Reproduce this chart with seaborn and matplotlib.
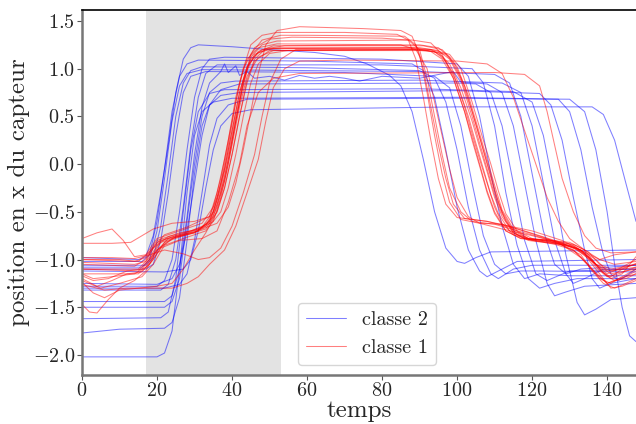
import matplotlib
matplotlib.use('Agg')
import matplotlib.pyplot as plt
import pandas as pd
import seaborn as sns

# courbes : listes de (temps, position) par capteur
classe2 = [
    [(0,-0.98),(15,-1.0),(17,-0.97),(19,-0.75),(21,-0.3),(23,0.2),(25,0.75),(27,1.1),(29,1.22),(31,1.25),(40,1.23),(50,1.2),(62,1.17),(70,1.13),(76,1.05),(82,0.93),(85,0.82),(88,0.55),(91,0.05),(94,-0.5),(97,-0.88),(100,-1.02),(102,-1.04),(105,-0.98),(109,-0.92),(147.7,-0.9)],
    [(0,-1.02),(16,-1.02),(18,-0.95),(20,-0.6),(22,-0.05),(24,0.55),(26,0.92),(28,1.05),(31,1.09),(60,1.08),(88,1.05),(91,0.98),(94,0.7),(97,0.15),(100,-0.45),(103,-0.9),(106,-1.12),(108,-1.18),(111,-1.12),(116,-1.02),(147.7,-1.0)],
    [(0,-1.06),(17,-1.06),(19,-0.98),(21,-0.65),(23,-0.1),(25,0.5),(27,0.85),(29,0.98),(32,1.02),(60,1.01),(90,0.98),(94,0.9),(97,0.65),(100,0.15),(103,-0.45),(106,-0.9),(109,-1.15),(111,-1.2),(115,-1.1),(120,-1.06),(147.7,-1.06)],
    [(0,-1.1),(17,-1.1),(19,-1.05),(21,-0.8),(23,-0.3),(25,0.3),(27,0.75),(29,0.92),(33,0.97),(70,0.96),(94,0.92),(98,0.8),(101,0.4),(104,-0.2),(107,-0.75),(110,-1.05),(113,-1.15),(117,-1.12),(122,-1.12),(147.7,-1.13)],
    [(0,-1.28),(20,-1.28),(22,-1.22),(24,-1.0),(26,-0.5),(28,0.15),(30,0.7),(32,1.0),(34,1.1),(38,1.12),(80,1.1),(100,1.05),(103,0.92),(106,0.5),(109,-0.1),(112,-0.65),(115,-1.05),(118,-1.2),(122,-1.15),(130,-1.17),(147.7,-1.17)],
    [(0,-1.32),(21,-1.32),(23,-1.26),(25,-1.0),(27,-0.45),(29,0.2),(31,0.7),(33,0.95),(36,1.04),(80,1.04),(104,1.0),(107,0.85),(110,0.4),(113,-0.3),(116,-0.85),(119,-1.2),(122,-1.3),(126,-1.25),(132,-1.2),(147.7,-1.2)],
    [(0,-1.44),(22,-1.44),(24,-1.38),(26,-1.1),(28,-0.55),(30,0.1),(32,0.6),(34,0.85),(36,0.93),(37,0.97),(38,1.05),(39,0.96),(41,1.03),(42,0.93),(44,0.97),(46,0.9),(50,0.92),(54,0.88),(58,0.93),(62,0.9),(66,0.92),(70,0.9),(74,0.87),(80,0.92),(90,0.9),(99,0.97),(101,0.86),(108,0.84),(112,0.75),(115,0.4),(118,-0.2),(121,-0.8),(124,-1.25),(126,-1.38),(129,-1.34),(134,-1.28),(147.7,-1.25)],
    [(0,-1.5),(22,-1.5),(24,-1.44),(26,-1.2),(28,-0.6),(30,0.0),(32,0.5),(34,0.75),(37,0.85),(41,0.87),(90,0.88),(112,0.85),(117,0.75),(120,0.4),(123,-0.2),(126,-0.8),(129,-1.15),(131,-1.25),(134,-1.2),(139,-1.1),(147.7,-1.1)],
    [(0,-1.62),(21,-1.61),(23,-1.55),(25,-1.2),(27,-0.5),(29,0.15),(31,0.55),(34,0.74),(38,0.78),(90,0.79),(115,0.76),(120,0.65),(123,0.3),(126,-0.3),(129,-0.95),(132,-1.45),(134,-1.58),(137,-1.52),(141,-1.42),(147.7,-1.4)],
    [(0,-1.77),(10,-1.73),(22,-1.72),(24,-1.66),(26,-1.4),(28,-0.8),(30,-0.1),(32,0.4),(34,0.62),(37,0.72),(42,0.75),(100,0.77),(122,0.74),(125,0.62),(128,0.25),(131,-0.35),(134,-0.9),(136,-1.2),(138,-1.3),(141,-1.25),(147.7,-1.2)],
    [(0,-2.02),(20,-2.02),(22,-1.98),(24,-1.75),(26,-1.1),(28,-0.3),(30,0.3),(32,0.55),(35,0.65),(40,0.69),(100,0.7),(127,0.68),(130,0.55),(133,0.15),(136,-0.45),(139,-0.95),(141,-1.15),(143,-1.22),(145.5,-1.16),(147.7,-1.1)],
    [(0,-1.3),(22,-1.3),(26,-1.26),(28,-1.15),(30,-0.8),(32,-0.3),(34,0.2),(36,0.48),(39,0.62),(44,0.68),(100,0.69),(130,0.68),(134,0.55),(137,0.15),(140,-0.5),(142,-1.05),(144,-1.5),(146,-1.8),(147.7,-1.86)],
    [(0,-1.12),(22,-1.13),(27,-1.1),(29,-1.0),(31,-0.7),(33,-0.25),(35,0.15),(37,0.4),(40,0.53),(45,0.57),(100,0.6),(136,0.6),(139,0.52),(142,0.25),(145,-0.2),(147.7,-0.6)],
    [(0,-1.25),(20,-1.26),(24,-1.2),(26,-1.05),(28,-0.7),(30,-0.2),(32,0.3),(34,0.62),(37,0.78),(42,0.84),(100,0.85),(105,0.84),(109,0.75),(112,0.4),(115,-0.2),(118,-0.8),(121,-1.15),(124,-1.22),(130,-1.12),(147.7,-1.1)],
    [(0,-1.08),(16,-1.08),(18,-1.0),(20,-0.7),(22,-0.15),(24,0.45),(26,0.82),(28,0.95),(32,0.99),(90,0.97),(110,0.94),(114,0.85),(117,0.5),(120,-0.1),(123,-0.7),(126,-1.05),(129,-1.15),(133,-1.1),(147.7,-1.06)],
]

classe1 = [
    [(0,-1.0),(14,-1.02),(17,-0.98),(20,-0.8),(26,-0.72),(32,-0.68),(36,-0.62),(39,-0.45),(41,-0.2),(43,0.15),(45,0.55),(47,0.95),(49,1.25),(52,1.4),(58,1.44),(75,1.42),(85,1.4),(88,1.34),(90,1.15),(92,0.75),(94,0.3),(96,-0.1),(98,-0.4),(101,-0.58),(106,-0.62),(112,-0.63),(118,-0.7),(126,-0.8),(132,-0.9),(137,-1.05),(141,-1.15),(147.7,-1.1)],
    [(0,-1.1),(15,-1.12),(18,-1.0),(21,-0.82),(27,-0.74),(33,-0.65),(35,-0.5),(37,-0.2),(39,0.2),(41,0.65),(43,1.0),(45,1.25),(48,1.35),(52,1.38),(70,1.38),(84,1.36),(87,1.3),(89,1.1),(91,0.7),(93,0.25),(95,-0.15),(97,-0.42),(100,-0.56),(108,-0.6),(116,-0.68),(124,-0.78),(131,-0.9),(136,-1.1),(140,-1.25),(144,-1.2),(147.7,-1.12)],
    [(0,-0.78),(4,-0.72),(8,-0.68),(11,-0.8),(14,-0.97),(17,-0.95),(20,-0.78),(26,-0.7),(32,-0.62),(35,-0.45),(37,-0.15),(39,0.25),(41,0.7),(43,1.0),(46,1.22),(50,1.31),(56,1.33),(80,1.32),(87,1.3),(90,1.2),(92,0.9),(94,0.5),(96,0.1),(98,-0.25),(101,-0.5),(104,-0.6),(110,-0.63),(118,-0.72),(127,-0.82),(133,-0.98),(137,-1.15),(140,-1.25),(143,-1.2),(147.7,-1.15)],
    [(0,-0.83),(8,-0.83),(13,-0.82),(16,-0.75),(19,-0.68),(24,-0.62),(30,-0.6),(34,-0.55),(36,-0.3),(38,0.05),(40,0.45),(42,0.85),(44,1.1),(47,1.22),(52,1.26),(85,1.25),(89,1.2),(92,1.0),(94,0.65),(96,0.3),(98,-0.05),(100,-0.35),(103,-0.55),(106,-0.62),(112,-0.68),(120,-0.75),(128,-0.83),(134,-0.92),(138,-1.0),(142,-0.95),(147.7,-0.92)],
    [(0,-1.17),(3,-1.22),(7,-1.2),(12,-1.12),(16,-1.1),(19,-0.95),(23,-0.78),(30,-0.72),(34,-0.6),(36,-0.42),(38,-0.15),(40,0.25),(42,0.65),(44,0.98),(46,1.15),(50,1.21),(88,1.22),(93,1.2),(96,1.13),(99,0.95),(102,0.6),(104,0.32),(106,0.05),(108,-0.2),(110,-0.45),(112,-0.62),(115,-0.74),(119,-0.79),(126,-0.84),(131,-0.9),(135,-1.05),(138,-1.2),(141,-1.25),(144,-1.18),(147.7,-1.1)],
    [(0,-1.24),(3,-1.35),(6,-1.4),(10,-1.32),(15,-1.3),(20,-1.28),(24,-1.25),(27,-1.1),(30,-0.9),(33,-0.72),(36,-0.5),(38,-0.25),(40,0.1),(42,0.5),(44,0.85),(46,1.08),(50,1.19),(88,1.2),(93,1.18),(96,1.1),(99,0.9),(102,0.55),(104,0.28),(106,0.0),(108,-0.28),(110,-0.5),(113,-0.7),(117,-0.78),(124,-0.8),(128,-0.85),(133,-0.95),(136,-1.12),(139,-1.25),(142,-1.3),(145,-1.25),(147.7,-1.2)],
    [(0,-1.47),(2,-1.55),(4,-1.56),(7,-1.42),(10,-1.3),(14,-1.22),(17,-1.12),(20,-0.9),(24,-0.78),(30,-0.72),(34,-0.6),(36,-0.38),(38,-0.05),(40,0.35),(42,0.75),(44,1.02),(47,1.17),(51,1.21),(89,1.21),(94,1.18),(97,1.08),(100,0.85),(103,0.5),(105,0.22),(107,-0.05),(109,-0.32),(111,-0.52),(114,-0.7),(118,-0.78),(124,-0.82),(131,-0.86),(135,-0.98),(138,-1.12),(141,-1.18),(144,-1.1),(147.7,-1.04)],
    [(0,-1.03),(14,-1.05),(17,-1.02),(19,-0.88),(23,-0.76),(29,-0.7),(34,-0.62),(36,-0.45),(38,-0.18),(40,0.2),(42,0.6),(44,0.92),(47,1.12),(51,1.19),(90,1.2),(95,1.17),(98,1.05),(101,0.8),(104,0.45),(106,0.18),(108,-0.08),(110,-0.35),(112,-0.55),(115,-0.72),(119,-0.78),(125,-0.8),(130,-0.82),(134,-0.9),(137,-1.05),(140,-1.15),(143,-1.1),(147.7,-1.05)],
    [(0,-1.1),(15,-1.1),(18,-0.98),(21,-0.8),(26,-0.74),(32,-0.66),(35,-0.5),(37,-0.25),(39,0.1),(41,0.5),(43,0.88),(45,1.1),(48,1.2),(53,1.22),(90,1.22),(95,1.19),(98,1.1),(101,0.88),(104,0.5),(106,0.22),(108,-0.05),(110,-0.32),(112,-0.52),(115,-0.72),(119,-0.8),(127,-0.84),(132,-0.88),(136,-1.0),(139,-1.15),(142,-1.22),(145,-1.2),(147.7,-1.15)],
    [(0,-1.2),(4,-1.28),(8,-1.22),(12,-1.15),(16,-1.13),(19,-1.0),(22,-0.82),(27,-0.75),(33,-0.68),(36,-0.5),(38,-0.25),(40,0.1),(42,0.5),(44,0.88),(46,1.1),(49,1.21),(54,1.24),(91,1.24),(96,1.2),(99,1.08),(102,0.82),(105,0.42),(107,0.15),(109,-0.12),(111,-0.4),(113,-0.6),(116,-0.74),(120,-0.8),(125,-0.82),(130,-0.85),(134,-0.95),(137,-1.1),(141,-1.3),(144,-1.28),(147.7,-1.22)],
    [(0,-1.22),(5,-1.3),(10,-1.25),(16,-1.18),(19,-1.05),(22,-0.85),(27,-0.78),(33,-0.7),(37,-0.5),(39,-0.25),(41,0.1),(43,0.5),(45,0.85),(47,1.05),(50,1.16),(55,1.19),(92,1.19),(97,1.15),(100,1.02),(103,0.72),(106,0.32),(108,0.05),(110,-0.22),(112,-0.48),(115,-0.68),(119,-0.78),(128,-0.83),(133,-0.9),(137,-1.05),(140,-1.18),(143,-1.15),(147.7,-1.08)],
    [(0,-0.98),(8,-0.98),(14,-0.99),(18,-0.95),(22,-0.9),(27,-0.94),(31,-1.0),(34,-0.98),(37,-0.88),(40,-0.65),(43,-0.3),(46,0.1),(48,0.5),(50,0.85),(53,1.1),(57,1.2),(93,1.2),(98,1.15),(101,1.0),(104,0.65),(107,0.25),(109,0.0),(111,-0.28),(113,-0.52),(116,-0.7),(120,-0.78),(128,-0.84),(133,-0.9),(137,-1.0),(140,-1.12),(143,-1.1),(147.7,-1.0)],
    [(0,-1.26),(6,-1.32),(12,-1.3),(18,-1.3),(24,-1.3),(28,-1.25),(31,-1.18),(34,-1.05),(38,-0.9),(41,-0.65),(44,-0.3),(47,0.05),(49,0.45),(51,0.8),(54,1.0),(58,1.08),(70,1.09),(100,1.08),(108,1.05),(112,0.95),(115,0.7),(118,0.35),(121,0.0),(124,-0.35),(127,-0.6),(130,-0.78),(134,-0.9),(138,-1.0),(142,-1.05),(147.7,-1.02)],
    [(0,-1.15),(15,-1.15),(18,-1.05),(21,-0.88),(26,-0.8),(32,-0.78),(36,-0.7),(39,-0.4),(42,0.0),(44,0.4),(47,0.75),(51,0.9),(58,0.95),(110,0.96),(118,0.94),(122,0.82),(124,0.55),(126,0.2),(128,-0.15),(131,-0.5),(134,-0.75),(137,-0.88),(141,-0.93),(147.7,-0.92)],
    [(0,-1.15),(3,-1.2),(8,-1.18),(14,-1.15),(17,-1.08),(20,-0.9),(25,-0.76),(31,-0.7),(35,-0.55),(37,-0.3),(39,0.05),(41,0.45),(43,0.85),(45,1.12),(48,1.25),(52,1.29),(88,1.3),(93,1.27),(96,1.15),(99,0.9),(102,0.55),(104,0.25),(106,-0.02),(108,-0.3),(110,-0.52),(113,-0.7),(117,-0.78),(124,-0.8),(131,-0.84),(135,-0.92),(138,-1.05),(141,-1.1),(147.7,-1.05)],
    [(0,-1.0),(10,-1.0),(15,-1.02),(18,-0.92),(22,-0.74),(28,-0.66),(34,-0.55),(36,-0.35),(38,-0.05),(40,0.35),(42,0.75),(44,1.02),(47,1.18),(51,1.24),(90,1.25),(95,1.22),(98,1.12),(101,0.9),(104,0.55),(106,0.28),(108,0.0),(110,-0.28),(112,-0.5),(115,-0.7),(119,-0.78),(126,-0.8),(131,-0.85),(135,-0.97),(138,-1.1),(141,-1.2),(144,-1.15),(147.7,-0.97)],
    [(0,-1.05),(14,-1.07),(17,-1.0),(20,-0.82),(25,-0.75),(31,-0.7),(35,-0.6),(37,-0.35),(39,0.0),(41,0.45),(43,0.85),(45,1.15),(48,1.3),(53,1.35),(60,1.35),(86,1.34),(89,1.25),(91,1.0),(93,0.6),(95,0.2),(97,-0.15),(99,-0.42),(102,-0.57),(108,-0.6),(120,-0.7),(128,-0.8),(133,-0.9),(137,-1.05),(141,-1.12),(147.7,-1.08)],
]

zone = (17, 53)
noms = ['classe 2', 'classe 1']
couleurs = {'classe 2': 'blue', 'classe 1': 'red'}

rows = []
for nom, courbes in zip(noms, [classe2, classe1]):
    for i, c in enumerate(courbes):
        for t, y in c:
            rows.append({'temps': t, 'position': y, 'classe': nom, 'id': nom + str(i)})
df = pd.DataFrame(rows)

sns.set_style('ticks')
plt.rcParams['font.family'] = ['cmr10']
plt.rcParams['mathtext.fontset'] = 'cm'
plt.rcParams['axes.formatter.use_mathtext'] = True

fig = plt.figure(figsize=(6.36, 4.24), dpi=100)
ax = fig.add_axes([82/636, 49/424, 554/636, 365/424])
ax.axvspan(zone[0], zone[1], color='#e3e3e3', lw=0, zorder=0)

sns.lineplot(data=df, x='temps', y='position', hue='classe', units='id',
             estimator=None, hue_order=noms, palette=couleurs,
             lw=0.75, alpha=0.5, ax=ax)

ax.set_xlim(0, 147.7)
ax.set_ylim(-2.21, 1.615)
ax.set_xlabel('temps', fontsize=18, labelpad=0)
ax.set_ylabel('position en x du capteur', fontsize=18, labelpad=2)
ax.tick_params(labelsize=14.5, length=3.5, pad=1.5, color='#555555', labelcolor='#262626')

for s in ['left', 'bottom']:
    ax.spines[s].set_color('#777777')
    ax.spines[s].set_linewidth(1.8)
ax.spines['top'].set_color('black')
ax.spines['top'].set_linewidth(1.2)
ax.spines['right'].set_visible(False)

h, l = ax.get_legend_handles_labels()
ax.legend(h, l, loc='lower center', bbox_to_anchor=(0.514, 0.0), fontsize=14.5,
          frameon=True, framealpha=0.8, borderaxespad=0.5)

fig.savefig('out.png', dpi=100)
